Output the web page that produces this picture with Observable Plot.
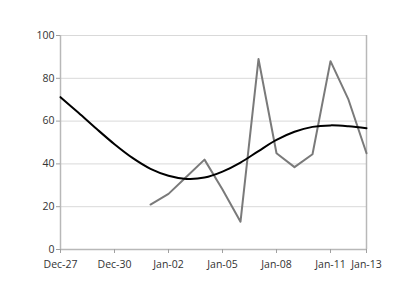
<!DOCTYPE html>
<html>
<head>
<meta charset="utf-8">
<script src="https://cdn.jsdelivr.net/npm/d3@7"></script>
<script src="https://cdn.jsdelivr.net/npm/@observablehq/plot@0.6"></script>
<style>
  html, body { margin: 0; padding: 0; background: #fff; }
</style>
</head>
<body>
<div id="chart"></div>
<script>
// Observed series (dates and values)
const obsDates = ["2014-01-01","2014-01-02","2014-01-03","2014-01-04","2014-01-05","2014-01-06","2014-01-07","2014-01-08","2014-01-09","2014-01-10","2014-01-11","2014-01-12","2014-01-13"];
const obsValues = [21, 26, 34, 42, 28, 13, 89, 45, 38.5, 44.5, 88, 70, 45];

// Smooth trend series
const trendDates = ["2013-12-27","2013-12-28","2013-12-29","2013-12-30","2013-12-31","2014-01-01","2014-01-02","2014-01-03","2014-01-04","2014-01-05","2014-01-06","2014-01-07","2014-01-08","2014-01-09","2014-01-10","2014-01-11","2014-01-12","2014-01-13"];
const trendValues = [71.2, 63.9, 56.4, 49.2, 42.8, 37.7, 34.5, 33.0, 33.6, 36.4, 40.6, 46, 51.2, 55, 57.3, 58, 57.6, 56.7];

// Axis ticks
const xTickDates = ["2013-12-27","2013-12-30","2014-01-02","2014-01-05","2014-01-08","2014-01-11","2014-01-13"];
const yTicks = [0, 20, 40, 60, 80, 100];

const obs = obsDates.map((d, i) => ({date: new Date(d), value: obsValues[i]}));
const trend = trendDates.map((d, i) => ({date: new Date(d), value: trendValues[i]}));
const xTicks = xTickDates.map(d => new Date(d));
const xDomain = [xTicks[0], xTicks[xTicks.length - 1]];

const fmt = d3.utcFormat("%b-%d");
const font = "'Open Sans', 'Noto Sans', sans-serif";

const chart = Plot.plot({
  width: 410,
  height: 305,
  marginLeft: 60,
  marginRight: 44,
  marginTop: 35,
  marginBottom: 56,
  style: {fontFamily: font, fontSize: "10.5px", color: "#333", background: "#fff"},
  x: {type: "utc", domain: xDomain},
  y: {domain: [0, 100]},
  marks: [
    Plot.ruleY(yTicks.filter(v => v > 0), {stroke: "#d9d9d9", strokeWidth: 1}),
    Plot.ruleX([xDomain[1]], {stroke: "#b8b8b8", strokeWidth: 1.5}),
    Plot.ruleX([xDomain[0]], {stroke: "#b8b8b8", strokeWidth: 1.5}),
    Plot.ruleY([0], {stroke: "#b8b8b8", strokeWidth: 1.5}),
    Plot.axisY({ticks: yTicks, tickSize: 4, tickPadding: 2, stroke: "#a0a0a0", label: null, fill: "#333"}),
    Plot.axisX({ticks: xTicks, tickSize: 4, tickPadding: 7, tickFormat: fmt, stroke: "#a0a0a0", label: null, fill: "#333"}),
    Plot.line(obs, {x: "date", y: "value", stroke: "#7a7a7a", strokeWidth: 2}),
    Plot.line(trend, {x: "date", y: "value", stroke: "#000", strokeWidth: 2, curve: "catmull-rom"})
  ]
});
document.getElementById("chart").appendChild(chart);
</script>
</body>
</html>
